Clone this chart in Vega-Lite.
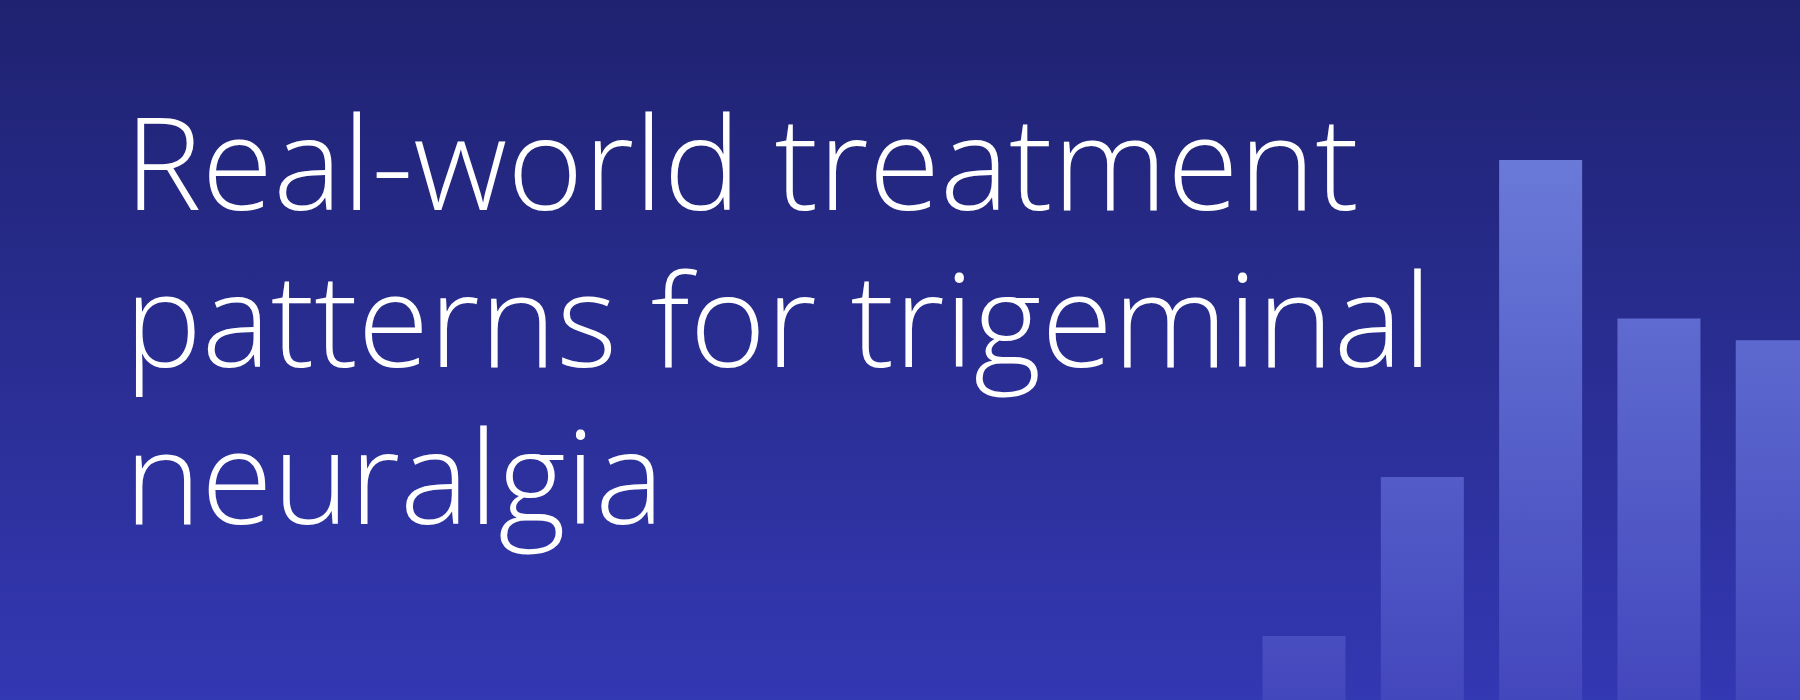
{
  "$schema": "https://vega.github.io/schema/vega-lite/v6.json",
  "width": 1800,
  "height": 700,
  "autosize": {"type": "fit", "contains": "padding"},
  "padding": 0,
  "background": "#292d91",
  "config": {"view": {"stroke": null}},
  "datasets": {
    "bars": [
      {"i": 0, "v": 9.14},
      {"i": 1, "v": 31.86},
      {"i": 2, "v": 77.14},
      {"i": 3, "v": 54.5},
      {"i": 4, "v": 51.4}
    ],
    "headline": [
      {"line": "Real-world treatment\npatterns for trigeminal\nneuralgia"}
    ]
  },
  "layer": [
    {
      "data": {"values": [{}]},
      "mark": {
        "type": "rect",
        "color": {"gradient": "linear", "x1": 0, "y1": 0, "x2": 0, "y2": 1,
          "stops": [{"offset": 0, "color": "#1f2270"}, {"offset": 0.5, "color": "#292d91"}, {"offset": 1, "color": "#3338b3"}]}
      },
      "encoding": {
        "x": {"value": 0}, "x2": {"value": "width"},
        "y": {"value": 0}, "y2": {"value": "height"}
      }
    },
    {
      "data": {"name": "bars"},
      "transform": [{"filter": "datum.i == 0"}],
      "mark": {"type": "bar", "size": 83, "clip": true,
        "color": {"gradient": "linear", "x1": 0, "y1": 0, "x2": 0, "y2": 1,
          "stops": [{"offset": 0, "color": "#484dbf"}, {"offset": 1, "color": "#4347bc"}]}},
      "encoding": {
        "x": {"field": "i", "type": "quantitative", "scale": {"domain": [-10.98, 4.15], "nice": false, "zero": false}, "axis": null},
        "y": {"field": "v", "type": "quantitative", "scale": {"domain": [0, 100], "nice": false}, "axis": null}
      }
    },
    {
      "data": {"name": "bars"},
      "transform": [{"filter": "datum.i == 1"}],
      "mark": {"type": "bar", "size": 83, "clip": true,
        "color": {"gradient": "linear", "x1": 0, "y1": 0, "x2": 0, "y2": 1,
          "stops": [{"offset": 0, "color": "#535cc8"}, {"offset": 1, "color": "#4347bc"}]}},
      "encoding": {
        "x": {"field": "i", "type": "quantitative"},
        "y": {"field": "v", "type": "quantitative"}
      }
    },
    {
      "data": {"name": "bars"},
      "transform": [{"filter": "datum.i == 2"}],
      "mark": {"type": "bar", "size": 83, "clip": true,
        "color": {"gradient": "linear", "x1": 0, "y1": 0, "x2": 0, "y2": 1,
          "stops": [{"offset": 0, "color": "#6a7ad8"}, {"offset": 1, "color": "#4347bc"}]}},
      "encoding": {
        "x": {"field": "i", "type": "quantitative"},
        "y": {"field": "v", "type": "quantitative"}
      }
    },
    {
      "data": {"name": "bars"},
      "transform": [{"filter": "datum.i == 3"}],
      "mark": {"type": "bar", "size": 83, "clip": true,
        "color": {"gradient": "linear", "x1": 0, "y1": 0, "x2": 0, "y2": 1,
          "stops": [{"offset": 0, "color": "#5f6bd0"}, {"offset": 1, "color": "#4347bc"}]}},
      "encoding": {
        "x": {"field": "i", "type": "quantitative"},
        "y": {"field": "v", "type": "quantitative"}
      }
    },
    {
      "data": {"name": "bars"},
      "transform": [{"filter": "datum.i == 4"}],
      "mark": {"type": "bar", "size": 83, "clip": true,
        "color": {"gradient": "linear", "x1": 0, "y1": 0, "x2": 0, "y2": 1,
          "stops": [{"offset": 0, "color": "#5d69cf"}, {"offset": 1, "color": "#4347bc"}]}},
      "encoding": {
        "x": {"field": "i", "type": "quantitative"},
        "y": {"field": "v", "type": "quantitative"}
      }
    },
    {
      "data": {"name": "headline"},
      "mark": {
        "type": "text",
        "font": "Open Sans",
        "fontWeight": 300,
        "fontSize": 130,
        "lineHeight": 157,
        "lineBreak": "\n",
        "align": "left",
        "baseline": "alphabetic",
        "fill": "#ffffff"
      },
      "encoding": {
        "x": {"datum": -9.97, "type": "quantitative"},
        "y": {"datum": 70, "type": "quantitative"},
        "text": {"field": "line", "type": "nominal"}
      }
    }
  ]
}
